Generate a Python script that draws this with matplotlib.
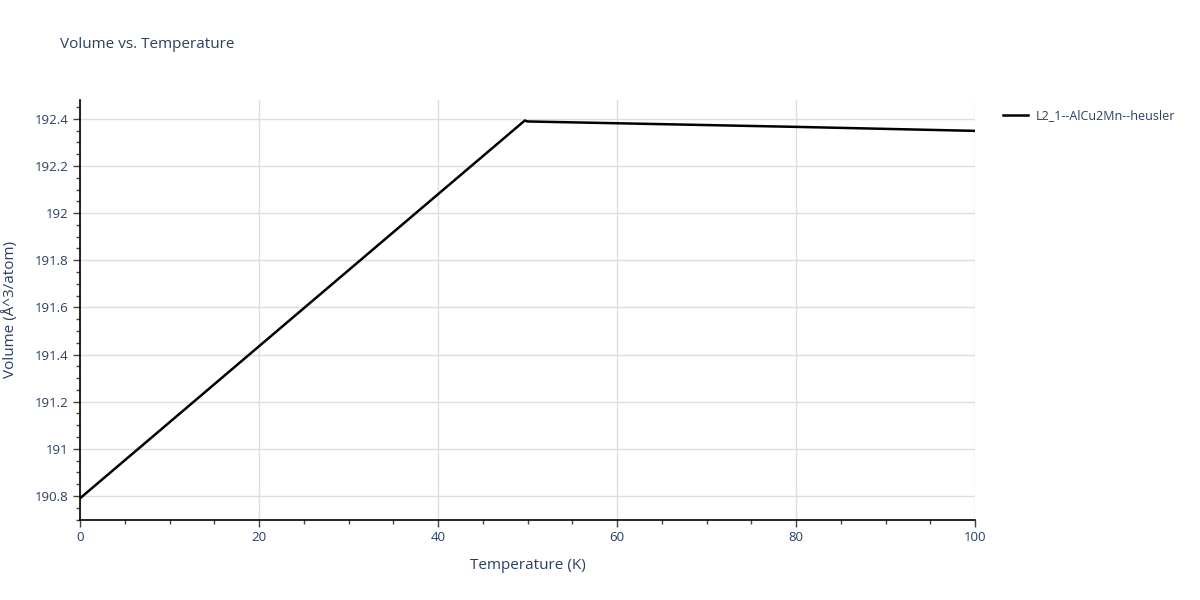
import numpy as np
import matplotlib
matplotlib.use("Agg")
import matplotlib.pyplot as plt
from matplotlib.ticker import MultipleLocator, FuncFormatter

# Dados
temperatura = [0, 49.7, 50, 80, 100]
volume = [190.79, 192.393, 192.389, 192.366, 192.349]
serie_nome = "L2_1--AlCu2Mn--heusler"

cor_texto = "#2a3f5f"

plt.rcParams['font.family'] = ['Open Sans', 'DejaVu Sans']

fig = plt.figure(figsize=(12, 6), dpi=100)
ax = fig.add_axes([80 / 1200, 80 / 600, 895 / 1200, 420 / 600])

ax.plot(temperatura, volume, color="black", linewidth=1.8, label=serie_nome,
        solid_joinstyle="round")

ax.set_xlim(0, 100)
ax.set_ylim(190.698, 192.48)

ax.xaxis.set_major_locator(MultipleLocator(20))
ax.xaxis.set_minor_locator(MultipleLocator(5))
ax.yaxis.set_major_locator(MultipleLocator(0.2))
ax.yaxis.set_minor_locator(MultipleLocator(0.05))
ax.yaxis.set_major_formatter(FuncFormatter(lambda v, p: f"{v:.1f}".rstrip("0").rstrip(".")))

ax.grid(True, which="major", color="#dedede", linewidth=1)
ax.set_axisbelow(True)

for lado in ["top", "right"]:
    ax.spines[lado].set_visible(False)
for lado in ["left", "bottom"]:
    ax.spines[lado].set_color("black")
    ax.spines[lado].set_linewidth(1.2)

ax.tick_params(which="major", length=5, width=1, color="#444444",
               labelcolor=cor_texto, labelsize=9.5, pad=3)
ax.tick_params(which="minor", length=3, width=1, color="#444444")

ax.set_xlabel("Temperature (K)", color=cor_texto, fontsize=11, labelpad=10)
ax.set_ylabel("Volume (Å^3/atom)", color=cor_texto, fontsize=11, labelpad=12)

fig.text(60 / 1200, 1 - 45 / 600, "Volume vs. Temperature", color=cor_texto,
         fontsize=11, va="center", ha="left")

leg = ax.legend(loc="upper left", bbox_to_anchor=(998 / 1200, 1 - 104 / 600),
                bbox_transform=fig.transFigure, frameon=False, fontsize=9,
                labelcolor=cor_texto, handlelength=2.0, handletextpad=0.6,
                borderaxespad=0)

fig.savefig("out.png", dpi=100)
